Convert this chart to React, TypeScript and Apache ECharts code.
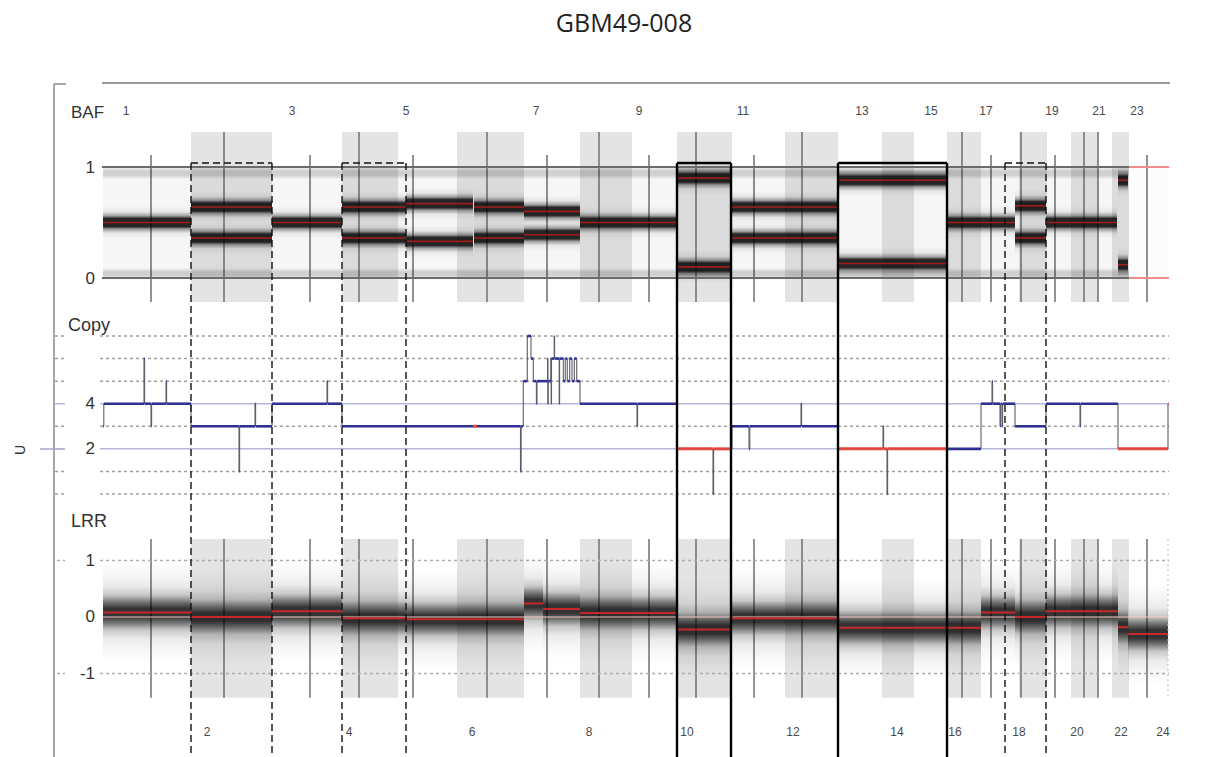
import { useEffect, useRef } from "react";
import * as echarts from "echarts";

const chartTitle = "GBM49-008";

// Genome axis in SNP-index units; 0 = start of chromosome 1
const genomeEnd = 1066;
const bafCallsEnd = 1026;
const evenChrStart = [88, 239, 354, 477, 574, 682, 779, 844, 916, 968, 1009];
const evenChrEnd = [169, 295, 421, 529, 629, 735, 811, 878, 944, 995, 1026];
const centromereX = [48, 121, 207, 256, 310, 384, 444, 496, 546, 593, 651, 699, 859, 888, 918, 952, 981, 995, 1044];
const oddChrLabels = ["1", "3", "5", "7", "9", "11", "13", "15", "17", "19", "21", "23"];
const oddChrLabelX = [23, 189, 303, 433, 536, 640, 759, 828, 883, 949, 996, 1034];
const evenChrLabels = ["2", "4", "6", "8", "10", "12", "14", "16", "18", "20", "22", "24"];
const evenChrLabelX = [104, 246, 369, 486, 584, 690, 794, 852, 916, 974, 1018, 1060];

// B-allele frequency segments
const bafSegStart = [0, 88, 169, 239, 303, 371, 421, 477, 574, 629, 735, 844, 912, 943, 1015];
const bafSegEnd = [88, 169, 239, 303, 370, 421, 477, 574, 628, 735, 844, 912, 943, 1014, 1025];
const bafSegLevels = [
  [0.5], [0.36, 0.64], [0.5], [0.36, 0.64], [0.33, 0.67], [0.36, 0.64], [0.39, 0.6], [0.5],
  [0.1, 0.9], [0.36, 0.64], [0.13, 0.88], [0.5], [0.36, 0.65], [0.5], [0.12, 0.88],
];

// Copy-number segments (loh = 1 drawn red)
const copyStart = [0, 0.8, 41, 41.6, 48, 48.6, 63, 63.6, 88, 136, 136.6, 152, 152.6, 169, 224, 224.6, 239, 370, 374, 417.5, 418.1, 420.3, 424.3, 428, 430.3, 433.4, 434, 444.6, 444.9, 445.2, 447.9, 448.2, 448.5, 451.2, 451.6, 456.2, 456.6, 460.3, 462.3, 464.3, 466.7, 469, 471.3, 473.7, 477, 534, 534.6, 574, 610, 610.6, 629, 646, 646.8, 698, 698.6, 735, 780, 780.6, 784, 784.6, 844, 878, 889, 889.6, 897, 897.6, 899, 899.6, 912, 943, 977, 977.6, 1015, 1065];
const copyEnd = [0.8, 41, 41.6, 48, 48.6, 63, 63.6, 88, 136, 136.6, 152, 152.6, 169, 224, 224.6, 239, 370, 374, 417.5, 418.1, 420.3, 424.3, 428, 430.3, 433.4, 434, 444.6, 444.9, 445.2, 447.9, 448.2, 448.5, 451.2, 451.6, 456.2, 456.6, 460.3, 462.3, 464.3, 466.7, 469, 471.3, 473.7, 477, 534, 534.6, 574, 610, 610.6, 629, 646, 646.8, 698, 698.6, 735, 780, 780.6, 784, 784.6, 844, 878, 889, 889.6, 897, 897.6, 899, 899.6, 912, 943, 977, 977.6, 1015, 1065, 1065.6];
const copyNumber = [3, 4, 6, 4, 3, 4, 5, 4, 3, 1, 3, 4, 3, 4, 5, 4, 3, 3, 3, 1, 3, 5, 7, 6, 5, 4, 5, 6, 4, 5, 6, 4, 6, 7, 6, 4, 6, 5, 6, 5, 6, 5, 6, 5, 4, 3, 4, 2, 0, 2, 3, 2, 3, 4, 3, 2, 3, 2, 0, 2, 2, 4, 5, 4, 3, 4, 3, 4, 3, 4, 3, 4, 2, 4];
const copyLoh = [0, 0, 0, 0, 0, 0, 0, 0, 0, 0, 0, 0, 0, 0, 0, 0, 0, 1, 0, 0, 0, 0, 0, 0, 0, 0, 0, 0, 0, 0, 0, 0, 0, 0, 0, 0, 0, 0, 0, 0, 0, 0, 0, 0, 0, 0, 0, 1, 0, 1, 0, 0, 0, 0, 0, 1, 0, 1, 0, 1, 0, 0, 0, 0, 0, 0, 0, 0, 0, 0, 0, 0, 1, 1];

// Log R ratio segments
const lrrStart = [0, 88, 169, 239, 303, 421, 440, 477, 574, 629, 735, 878, 912, 943, 1015, 1025];
const lrrEnd = [88, 169, 239, 303, 421, 440, 477, 574, 629, 735, 878, 912, 943, 1015, 1025, 1065];
const lrrLevel = [0.08, 0.0, 0.1, -0.02, -0.04, 0.24, 0.14, 0.07, -0.22, -0.02, -0.19, 0.08, 0.0, 0.1, -0.18, -0.3];

const bafTicks = [0, 1];
const copyTicks = [2, 4];
const lrrTicks = [-1, 0, 1];
const copyDotted = [0, 1, 3, 5, 6, 7];
const copySolid = [2, 4];
const lrrDotted = [-1, 1];

const dashedBoxStart = [88, 239, 902];
const dashedBoxEnd = [169, 303, 943];
const solidBoxStart = [574, 735];
const solidBoxEnd = [628, 844];

const FONT = '"Liberation Sans", Arial, sans-serif';

type Seg = number[];

function grad(stops: [number, number][]) {
  return new echarts.graphic.LinearGradient(
    0, 0, 0, 1,
    stops.map(([o, a]) => ({ offset: o, color: `rgba(0,0,0,${a})` }))
  );
}

function lineSeries(grid: number, segs: Seg[], styles: any[], z: number) {
  return {
    type: "custom",
    xAxisIndex: grid,
    yAxisIndex: grid,
    z,
    silent: true,
    clip: false,
    data: segs,
    encode: { x: [0, 2], y: [1, 3] },
    renderItem: (_p: any, api: any) => {
      const a = api.coord([api.value(0), api.value(1)]);
      const b = api.coord([api.value(2), api.value(3)]);
      const s = styles[api.value(4)];
      return {
        type: "line",
        silent: true,
        shape: { x1: a[0], y1: a[1], x2: b[0], y2: b[1] },
        style: { stroke: s.color, lineWidth: s.width, lineDash: s.dash || null, lineCap: "butt" },
      };
    },
  };
}

function rectSeries(grid: number, rects: Seg[], fills: any[], z: number) {
  return {
    type: "custom",
    xAxisIndex: grid,
    yAxisIndex: grid,
    z,
    silent: true,
    clip: false,
    data: rects,
    encode: { x: [0, 2], y: [1, 3] },
    renderItem: (_p: any, api: any) => {
      const a = api.coord([api.value(0), api.value(3)]);
      const b = api.coord([api.value(2), api.value(1)]);
      return {
        type: "rect",
        silent: true,
        shape: { x: a[0], y: a[1], width: b[0] - a[0], height: b[1] - a[1] },
        style: { fill: fills[api.value(4)] },
      };
    },
  };
}

function textSeries(grid: number, xs: number[], y: number, labels: string[], font: string, fill: string, align: string, z: number) {
  return {
    type: "custom",
    xAxisIndex: grid,
    yAxisIndex: grid,
    z,
    silent: true,
    clip: false,
    data: xs.map((x) => [x, y]),
    renderItem: (p: any, api: any) => {
      const c = api.coord([api.value(0), api.value(1)]);
      return {
        type: "text",
        silent: true,
        x: c[0],
        y: c[1],
        style: {
          text: labels[p.dataIndex],
          font,
          fill,
          align,
          verticalAlign: "middle",
          textAlign: align,
          textVerticalAlign: "middle",
        },
      };
    },
  };
}

function yLabelSeries(grid: number, ticks: number[], z: number) {
  return {
    type: "custom",
    xAxisIndex: grid,
    yAxisIndex: grid,
    z,
    silent: true,
    clip: false,
    data: ticks.map((t) => [-8, t]),
    renderItem: (_p: any, api: any) => {
      const c = api.coord([api.value(0), api.value(1)]);
      return {
        type: "text",
        silent: true,
        x: c[0],
        y: c[1],
        style: {
          text: String(api.value(1)),
          font: `17px ${FONT}`,
          fill: "#333",
          align: "right",
          verticalAlign: "middle",
          textAlign: "right",
          textVerticalAlign: "middle",
        },
      };
    },
  };
}

function boxSeries(starts: number[], ends: number[], solid: boolean) {
  return {
    type: "custom",
    xAxisIndex: 0,
    yAxisIndex: 0,
    z: 20,
    silent: true,
    clip: false,
    data: starts.map((s, i) => [s, 1.036, ends[i]]),
    renderItem: (_p: any, api: any) => {
      const a = api.coord([api.value(0), api.value(1)]);
      const b = api.coord([api.value(2), api.value(1)]);
      const bottom = api.getHeight();
      const style = solid
        ? { stroke: "#000", lineWidth: 2.4, fill: null }
        : { stroke: "#111", lineWidth: 1.4, lineDash: [7, 4], fill: null };
      return {
        type: "group",
        children: [
          { type: "line", silent: true, shape: { x1: a[0], y1: a[1], x2: b[0], y2: b[1] }, style },
          { type: "line", silent: true, shape: { x1: a[0], y1: a[1], x2: a[0], y2: bottom }, style },
          { type: "line", silent: true, shape: { x1: b[0], y1: b[1], x2: b[0], y2: bottom }, style },
        ],
      };
    },
  };
}

function isEvenChr(x: number) {
  return evenChrStart.some((s, i) => x >= s && x <= evenChrEnd[i]);
}

function buildOption() {
  // ---- BAF panel ----
  const bafShade = evenChrStart.map((s, i) => [s, -0.216, evenChrEnd[i], 1.315, 0]);
  const lrrShade = evenChrStart.map((s, i) => [s, -1.43, evenChrEnd[i], 1.38, 0]);
  const shadeFill = ["#e4e4e4"];

  const centroStyles = [{ color: "#6f6f6f", width: 1.5 }];
  const bafCentro = centromereX.map((x) => [x, isEvenChr(x) ? 1.315 : 1.108, x, -0.216, 0]);
  const lrrCentro = centromereX.map((x) => [x, 1.38, x, -1.43, 0]);

  const bafFills = [
    "rgba(0,0,0,0.035)",
    "rgba(0,0,0,0.012)",
    grad([[0, 0], [0.35, 0.16], [0.65, 0.16], [1, 0]]),
    grad([[0, 0], [0.18, 0.06], [0.3, 0.35], [0.38, 0.85], [0.62, 0.85], [0.7, 0.35], [0.82, 0.06], [1, 0]]),
  ];
  const bafRects: Seg[] = [
    [0, 0, bafCallsEnd, 1, 0],
    [bafCallsEnd, 0, genomeEnd, 1, 1],
    [0, -0.01, bafCallsEnd, 0.09, 2],
    [0, 0.89, bafCallsEnd, 1.0, 2],
  ];
  const bafRed: Seg[] = [];
  bafSegStart.forEach((s, i) => {
    bafSegLevels[i].forEach((lv) => {
      bafRects.push([s, lv - 0.15, bafSegEnd[i], lv + 0.15, 3]);
      bafRed.push([s, lv, bafSegEnd[i], lv, 0]);
    });
  });
  const bafLineStyles = [
    { color: "#a01c1c", width: 1.6 },
    { color: "#6b6b6b", width: 2 },
    { color: "#f08c8c", width: 2 },
  ];
  const bafRefLines: Seg[] = [];
  bafTicks.forEach((t) => {
    bafRefLines.push([-1, t, bafCallsEnd, t, 1]);
    bafRefLines.push([bafCallsEnd, t, genomeEnd, t, 2]);
  });

  // ---- Copy panel ----
  const copyRefStyles = [
    { color: "#a0a0a0", width: 1.5, dash: [3, 3] },
    { color: "#b6b6da", width: 1.5 },
  ];
  const copyRef: Seg[] = [];
  copyDotted.forEach((t) => {
    copyRef.push([-48, t, -38, t, 0]);
    copyRef.push([-3, t, genomeEnd, t, 0]);
  });
  copySolid.forEach((t) => {
    copyRef.push([-48, t, -38, t, 1]);
    copyRef.push([-3, t, genomeEnd, t, 1]);
  });
  const copyStyles = [
    { color: "#2e3190", width: 2.6 },
    { color: "#e2463f", width: 3 },
    { color: "#5c5c6c", width: 1.1 },
  ];
  const copySegs: Seg[] = [];
  copyStart.forEach((s, i) => {
    if (i > 0 && copyNumber[i] !== copyNumber[i - 1]) {
      copySegs.push([s, copyNumber[i - 1], s, copyNumber[i], 2]);
    }
  });
  copyStart.forEach((s, i) => {
    copySegs.push([s, copyNumber[i], copyEnd[i], copyNumber[i], copyLoh[i] ? 1 : 0]);
  });

  // ---- LRR panel ----
  const lrrFills = [
    grad([
      [0, 0], [0.12, 0.03], [0.24, 0.08], [0.33, 0.22], [0.4, 0.55], [0.46, 0.8],
      [0.54, 0.8], [0.6, 0.55], [0.67, 0.22], [0.76, 0.08], [0.88, 0.03], [1, 0],
    ]),
  ];
  const lrrRects: Seg[] = [];
  const lrrRed: Seg[] = [];
  lrrStart.forEach((s, i) => {
    lrrRects.push([s, lrrLevel[i] - 0.9, lrrEnd[i], lrrLevel[i] + 0.9, 0]);
    lrrRed.push([s, lrrLevel[i], lrrEnd[i], lrrLevel[i], 0]);
  });
  const lrrLineStyles = [
    { color: "#c4282a", width: 2 },
    { color: "#adadad", width: 1.3, dash: [3, 3] },
    { color: "#f4c6c6", width: 1.2 },
    { color: "#bdbdbd", width: 1, dash: [2, 3] },
  ];
  const lrrRef: Seg[] = [];
  lrrDotted.forEach((t) => {
    lrrRef.push([-46, t, -38, t, 1]);
    lrrRef.push([-3, t, genomeEnd, t, 1]);
  });
  const lrrZero: Seg[] = [[0, 0, genomeEnd, 0, 2], [genomeEnd - 1, 1.38, genomeEnd - 1, -1.43, 3]];

  const grids = [
    { left: 55, right: 38, top: 100, height: 202 },
    { left: 55, right: 38, top: 310, height: 200 },
    { left: 55, right: 38, top: 520, height: 230 },
  ];
  const yRanges = [
    [-0.2162, 1.6036],
    [-0.709, 8.152],
    [-2.354, 1.7168],
  ];

  return {
    animation: false,
    backgroundColor: "#ffffff",
    grid: grids.map((g) => ({ ...g, show: false })),
    xAxis: grids.map((_g, i) => ({ type: "value", gridIndex: i, min: -48, max: genomeEnd, show: false })),
    yAxis: yRanges.map((r, i) => ({ type: "value", gridIndex: i, min: r[0], max: r[1], show: false })),
    series: [
      rectSeries(0, bafShade, shadeFill, 1),
      lineSeries(0, bafCentro, centroStyles, 2),
      rectSeries(0, bafRects, bafFills, 3),
      lineSeries(0, bafRefLines, bafLineStyles, 4),
      lineSeries(0, bafRed, bafLineStyles, 5),
      textSeries(0, oddChrLabelX, 1.505, oddChrLabels, `12px ${FONT}`, "#4a4a4a", "center", 6),
      yLabelSeries(0, bafTicks, 6),

      lineSeries(1, copyRef, copyRefStyles, 2),
      lineSeries(1, copySegs, copyStyles, 5),
      yLabelSeries(1, copyTicks, 6),

      rectSeries(2, lrrShade, shadeFill, 1),
      lineSeries(2, lrrCentro, centroStyles, 2),
      lineSeries(2, lrrRef, lrrLineStyles, 2),
      rectSeries(2, lrrRects, lrrFills, 3),
      lineSeries(2, lrrZero, lrrLineStyles, 4),
      lineSeries(2, lrrRed, lrrLineStyles, 5),
      textSeries(2, evenChrLabelX, -2.035, evenChrLabels, `12px ${FONT}`, "#4a4a4a", "center", 6),
      yLabelSeries(2, lrrTicks, 6),

      boxSeries(dashedBoxStart, dashedBoxEnd, false),
      boxSeries(solidBoxStart, solidBoxEnd, true),
    ],
    graphic: [
      {
        type: "text",
        x: 624,
        y: 22,
        style: {
          text: chartTitle,
          font: '25px "Open Sans", "Noto Sans", sans-serif',
          fill: "#222",
          align: "center",
          verticalAlign: "middle",
          textAlign: "center",
          textVerticalAlign: "middle",
        },
      },
      { type: "line", shape: { x1: 102, y1: 83, x2: 1170, y2: 83 }, style: { stroke: "#9a9a9a", lineWidth: 2 } },
      { type: "line", shape: { x1: 54, y1: 84, x2: 54, y2: 757 }, style: { stroke: "#8a8a8a", lineWidth: 1.5 } },
      { type: "line", shape: { x1: 54, y1: 84, x2: 66, y2: 84 }, style: { stroke: "#8a8a8a", lineWidth: 1.5 } },
      { type: "line", shape: { x1: 40, y1: 449, x2: 65, y2: 449 }, style: { stroke: "#a6a6c6", lineWidth: 1.5 } },
      {
        type: "text",
        x: 20,
        y: 450,
        rotation: Math.PI / 2,
        style: { text: "U", font: `14px ${FONT}`, fill: "#333", align: "center", verticalAlign: "middle", textAlign: "center", textVerticalAlign: "middle" },
      },
      {
        type: "text",
        x: 71,
        y: 112,
        style: { text: "BAF", font: `17px ${FONT}`, fill: "#333", align: "left", verticalAlign: "middle", textAlign: "left", textVerticalAlign: "middle" },
      },
      {
        type: "text",
        x: 68,
        y: 325,
        z: 10,
        style: { text: "Copy", font: `18px ${FONT}`, fill: "#333", backgroundColor: "#fff", align: "left", verticalAlign: "middle", textAlign: "left", textVerticalAlign: "middle" },
      },
      {
        type: "text",
        x: 71,
        y: 521,
        style: { text: "LRR", font: `18px ${FONT}`, fill: "#333", align: "left", verticalAlign: "middle", textAlign: "left", textVerticalAlign: "middle" },
      },
    ],
  };
}

export default function App() {
  const ref = useRef<HTMLDivElement>(null);
  useEffect(() => {
    if (!ref.current) return;
    const chart = echarts.init(ref.current, null, { renderer: "svg" });
    chart.setOption(buildOption() as any);
    return () => chart.dispose();
  }, []);
  return <div ref={ref} style={{ position: "absolute", left: 0, top: 0, width: 1207, height: 757 }} />;
}
